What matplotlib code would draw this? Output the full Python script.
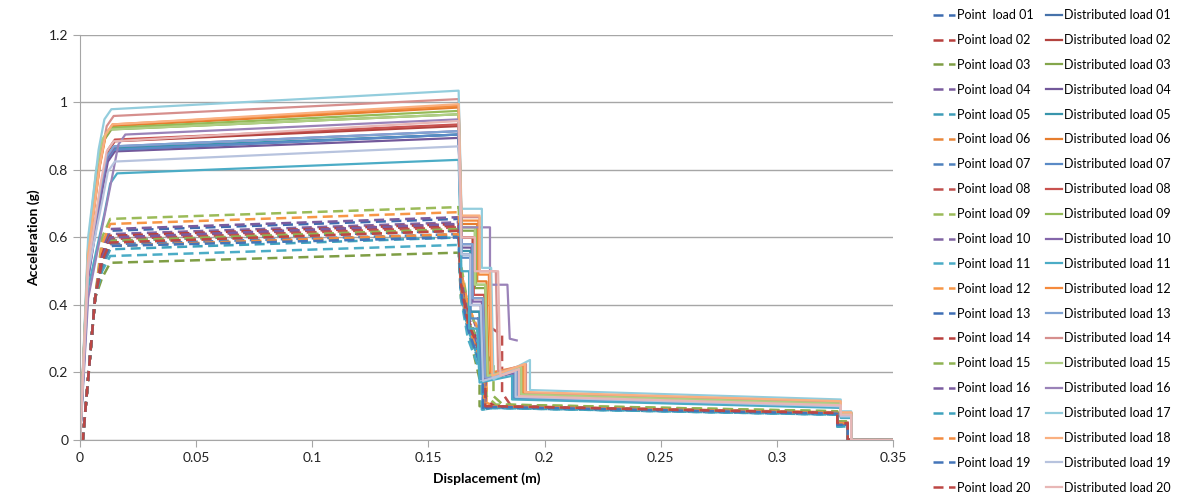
import matplotlib
matplotlib.use("Agg")
import matplotlib.pyplot as plt
from matplotlib.ticker import FuncFormatter

plt.rcParams['font.family'] = ['Lato', 'DejaVu Sans']

# ---- point loads (dashed) ----
p_labels = ['Point  load 01'] + ['Point load %02d' % i for i in range(2, 21)]
p_colors = ['#3D6CB0', '#B8403D', '#7F9E45', '#7A5C9E', '#3E9DB8', '#E9873A',
            '#4F81BD', '#C0504D', '#9BBB59', '#8064A2', '#4BACC6', '#F79646',
            '#3E6FB5', '#B93F3C', '#8FB352', '#7B5CA0', '#3FA2BD', '#F28B3F',
            '#4475B9', '#BD4744']
p_knee = [0.56, 0.54, 0.48, 0.57, 0.52, 0.53, 0.52, 0.54, 0.60, 0.55,
          0.50, 0.58, 0.53, 0.55, 0.53, 0.54, 0.51, 0.52, 0.52, 0.53]
p_start = [0.620, 0.600, 0.525, 0.625, 0.575, 0.585, 0.580, 0.595, 0.655, 0.610,
           0.545, 0.640, 0.590, 0.605, 0.590, 0.600, 0.565, 0.575, 0.575, 0.585]
p_end = [0.655, 0.635, 0.555, 0.660, 0.605, 0.620, 0.610, 0.630, 0.690, 0.645,
         0.578, 0.675, 0.620, 0.640, 0.625, 0.640, 0.600, 0.610, 0.600, 0.620]
p_a = [0.48, 0.46, 0.42, 0.50, 0.44, 0.47, 0.45, 0.48, 0.52, 0.48,
       0.42, 0.50, 0.45, 0.47, 0.46, 0.47, 0.43, 0.45, 0.44, 0.46]
p_b = [0.36, 0.34, 0.33, 0.40, 0.32, 0.35, 0.34, 0.38, 0.40, 0.37,
       0.30, 0.40, 0.35, 0.36, 0.35, 0.35, 0.33, 0.34, 0.33, 0.35]
p_c = [0.22, 0.20, 0.18, 0.26, 0.20, 0.22, 0.21, 0.31, 0.25, 0.24,
       0.19, 0.27, 0.22, 0.23, 0.22, 0.22, 0.20, 0.21, 0.20, 0.22]
p_cx = [0.1735, 0.1740, 0.1720, 0.1745, 0.1735, 0.1740, 0.1735, 0.1817, 0.1750, 0.1740,
        0.1730, 0.1750, 0.1740, 0.1745, 0.1780, 0.1745, 0.1735, 0.1740, 0.1735, 0.1745]
p_trough = [0.095, 0.10, 0.10, 0.10, 0.09, 0.10, 0.095, 0.14, 0.13, 0.10,
            0.09, 0.11, 0.095, 0.12, 0.13, 0.10, 0.09, 0.10, 0.09, 0.10]
p_low0 = [0.100, 0.100, 0.100, 0.100, 0.095, 0.100, 0.098, 0.100, 0.105, 0.100,
          0.095, 0.100, 0.098, 0.100, 0.105, 0.100, 0.095, 0.100, 0.098, 0.100]
p_low1 = [0.078, 0.080, 0.080, 0.080, 0.075, 0.080, 0.078, 0.080, 0.085, 0.080,
          0.075, 0.082, 0.078, 0.080, 0.085, 0.080, 0.075, 0.080, 0.078, 0.080]
p_step = [0.045, 0.050, 0.050, 0.050, 0.040, 0.050, 0.045, 0.055, 0.055, 0.050,
          0.040, 0.050, 0.045, 0.050, 0.055, 0.050, 0.040, 0.050, 0.045, 0.050]

# ---- distributed loads (solid) ----
d_labels = ['Distributed load %02d' % i for i in range(1, 21)]
d_colors = ['#4672AA', '#B3433F', '#84A64B', '#72589A', '#3895AC', '#E67D2E',
            '#5A8AC6', '#C9524F', '#94BB58', '#8466AA', '#4BACC6', '#F58A3C',
            '#7FA3D3', '#D68F8D', '#AFCF83', '#9A82B8', '#93CDDD', '#FAB080',
            '#B7C3DE', '#E8B7B6']
d_rise = [0.50, 0.52, 0.55, 0.48, 0.50, 0.55, 0.50, 0.52, 0.56, 0.48,
          0.45, 0.56, 0.52, 0.57, 0.58, 0.42, 0.60, 0.55, 0.50, 0.52]
d_kx = [0.0115, 0.0120, 0.0105, 0.0120, 0.0115, 0.0110, 0.0115, 0.0120, 0.0105, 0.0120,
        0.0130, 0.0110, 0.0115, 0.0115, 0.0095, 0.0165, 0.0105, 0.0110, 0.0120, 0.0115]
d_start = [0.860, 0.885, 0.920, 0.855, 0.865, 0.930, 0.860, 0.890, 0.925, 0.870,
           0.790, 0.935, 0.870, 0.960, 0.920, 0.905, 0.980, 0.935, 0.825, 0.885]
d_end = [0.905, 0.930, 0.965, 0.895, 0.905, 0.985, 0.905, 0.935, 0.975, 0.915,
         0.830, 0.990, 0.915, 1.010, 0.965, 0.950, 1.035, 0.995, 0.870, 0.945]
d_m1 = [0.55, 0.60, 0.62, 0.57, 0.56, 0.64, 0.54, 0.60, 0.63, 0.58,
        0.50, 0.65, 0.58, 0.66, 0.63, 0.63, 0.685, 0.665, 0.55, 0.60]
d_m1x = [0.1680, 0.1690, 0.1700, 0.1685, 0.1680, 0.1710, 0.1680, 0.1695, 0.1705, 0.1690,
         0.1675, 0.1715, 0.1690, 0.1720, 0.1700, 0.1765, 0.1730, 0.1720, 0.1680, 0.1700]
d_m2 = [0.38, 0.42, 0.45, 0.40, 0.38, 0.47, 0.36, 0.43, 0.46, 0.41,
        0.33, 0.49, 0.42, 0.50, 0.46, 0.46, 0.51, 0.50, 0.40, 0.50]
d_m2x = [0.1720, 0.1735, 0.1745, 0.1725, 0.1720, 0.1750, 0.1715, 0.1740, 0.1745, 0.1730,
         0.1710, 0.1760, 0.1735, 0.1790, 0.1745, 0.1840, 0.1770, 0.1765, 0.1725, 0.1800]
d_trough = [0.190, 0.185, 0.190, 0.180, 0.180, 0.190, 0.180, 0.190, 0.190, 0.180,
            0.170, 0.200, 0.185, 0.200, 0.190, 0.300, 0.180, 0.190, 0.175, 0.190]
d_bx = [0.1870, 0.1880, 0.1890, 0.1875, 0.1870, 0.1905, 0.1865, 0.1885, 0.1895, 0.1880,
        0.1860, 0.1910, 0.1880, 0.1920, 0.1900, 0.1880, 0.1937, 0.1915, 0.1875, 0.1890]
d_bump = [0.205, 0.205, 0.210, 0.200, 0.200, 0.215, 0.200, 0.210, 0.210, 0.200,
          0.190, 0.220, 0.205, 0.225, 0.215, 0.295, 0.237, 0.225, 0.205, 0.210]
d_low0 = [0.125, 0.130, 0.135, 0.125, 0.125, 0.140, 0.125, 0.130, 0.135, 0.128,
          0.120, 0.140, 0.128, 0.140, 0.135, 0.130, 0.148, 0.142, 0.128, 0.130]
d_low1 = [0.100, 0.102, 0.105, 0.098, 0.098, 0.110, 0.098, 0.103, 0.107, 0.100,
          0.095, 0.112, 0.100, 0.113, 0.108, 0.100, 0.120, 0.115, 0.100, 0.103]
d_step = [0.070, 0.075, 0.080, 0.070, 0.068, 0.080, 0.070, 0.075, 0.080, 0.072,
          0.065, 0.082, 0.072, 0.082, 0.080, 0.070, 0.085, 0.082, 0.070, 0.075]
d_stops_early = [False] * 15 + [True] + [False] * 4

fig = plt.figure(figsize=(11.8, 5.01), dpi=100)
ax = fig.add_axes([0.0678, 0.1218, 0.6890, 0.8084])

p_handles = []
for i in range(20):
    xs = [0.0, 0.0012, 0.0065, 0.0095, 0.013, 0.163, 0.1640, 0.1670, p_cx[i], p_cx[i],
          p_cx[i] + 0.004, 0.326, 0.326, 0.3305, 0.3305, 0.35]
    ys = [0.0, 0.0, 0.42, p_knee[i], p_start[i], p_end[i], p_a[i], p_b[i], p_c[i], p_trough[i],
          p_low0[i], p_low1[i], p_step[i], p_step[i], 0.0, 0.0]
    h, = ax.plot(xs, ys, color=p_colors[i], lw=1.8, ls=(0, (4, 2.2)),
                 dash_capstyle='butt', label=p_labels[i])
    p_handles.append(h)

d_handles = []
for i in range(20):
    xs = [0.0, 0.0035, d_kx[i] - 0.0025, d_kx[i], d_kx[i] + 0.003, 0.163, 0.1642,
          d_m1x[i], d_m1x[i], d_m2x[i], d_m2x[i] + 0.001, d_bx[i], d_bx[i],
          0.3275, 0.3275, 0.332, 0.332, 0.35]
    ys = [0.0, d_rise[i], d_start[i] - 0.12, d_start[i] - 0.03, d_start[i], d_end[i], d_m1[i],
          d_m1[i], d_m2[i], d_m2[i], d_trough[i], d_bump[i], d_low0[i],
          d_low1[i], d_step[i], d_step[i], 0.0, 0.0]
    if d_stops_early[i]:
        xs, ys = xs[:12], ys[:12]
    h, = ax.plot(xs, ys, color=d_colors[i], lw=1.6, solid_joinstyle='round',
                 label=d_labels[i])
    d_handles.append(h)

ax.set_xlim(0, 0.35)
ax.set_ylim(0, 1.2)
ax.set_xticks([0, 0.05, 0.1, 0.15, 0.2, 0.25, 0.3, 0.35])
ax.set_yticks([0, 0.2, 0.4, 0.6, 0.8, 1.0, 1.2])
fmt = FuncFormatter(lambda v, p: '%g' % round(v, 2))
ax.xaxis.set_major_formatter(fmt)
ax.yaxis.set_major_formatter(fmt)
ax.grid(axis='y', color='#A6A6A6', lw=1)
ax.set_axisbelow(True)
for s in ['top', 'right']:
    ax.spines[s].set_visible(False)
for s in ['left', 'bottom']:
    ax.spines[s].set_color('#A6A6A6')
ax.tick_params(axis='both', colors='#A6A6A6', labelcolor='#222222', labelsize=10,
               length=5, direction='out')
ax.set_xlabel('Displacement (m)', fontweight='bold', fontsize=10, labelpad=6)
ax.set_ylabel('Acceleration (g)', fontweight='bold', fontsize=10, labelpad=6)

leg_kw = dict(loc='upper left', frameon=False, fontsize=9, handletextpad=0.2,
              labelspacing=1.03, borderaxespad=0, borderpad=0)
fig.legend(handles=p_handles, bbox_to_anchor=(0.7905, 0.982), handlelength=1.75, **leg_kw)
fig.legend(handles=d_handles, bbox_to_anchor=(0.8862, 0.982), handlelength=1.3, **leg_kw)

fig.savefig('out.png', dpi=100)
